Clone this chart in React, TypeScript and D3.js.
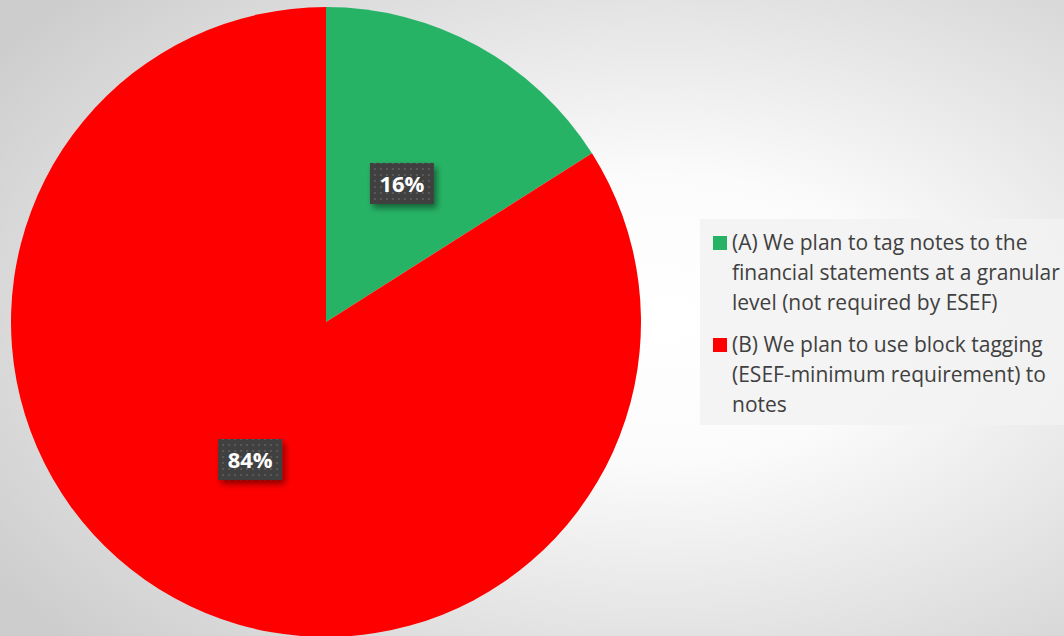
import React from "react";
import * as d3 from "d3";

const categories = [
  "(A) We plan to tag notes to the financial statements at a granular level (not required by ESEF)",
  "(B) We plan to use block tagging (ESEF-minimum requirement) to notes",
];
const values = [16, 84];
const colors = ["#27b366", "#ff0000"];
const legendLines = [
  ["(A) We plan to tag notes to the", "financial statements at a granular", "level (not required by ESEF)"],
  ["(B) We plan to use block tagging", "(ESEF-minimum requirement) to", "notes"],
];

const W = 1064, H = 636;
const cx = 326, cy = 322, R = 315;

export default function App() {
  const pie = d3.pie<number>().sort(null).value((d) => d);
  const arcs = pie(values);
  const arc = d3.arc<d3.PieArcDatum<number>>().innerRadius(0).outerRadius(R);
  const labelArc = d3.arc<d3.PieArcDatum<number>>().innerRadius(R * 0.5).outerRadius(R * 0.5);
  const total = d3.sum(values);
  return (
    <svg width={W} height={H} style={{ position: "absolute", left: 0, top: 0 }}>
      <defs>
        <radialGradient id="bg" cx="62%" cy="50%" r="75%">
          <stop offset="0%" stopColor="#ffffff" />
          <stop offset="30%" stopColor="#fbfbfb" />
          <stop offset="100%" stopColor="#cdcdcd" />
        </radialGradient>
        <pattern id="dots" width="6" height="6" patternUnits="userSpaceOnUse">
          <rect width="6" height="6" fill="#404040" />
          <rect x="2" y="2" width="2" height="2" fill="#5a5a5a" />
        </pattern>
        <filter id="shadow" x="-20%" y="-20%" width="150%" height="160%">
          <feDropShadow dx="3" dy="4" stdDeviation="3" floodColor="#000" floodOpacity="0.45" />
        </filter>
      </defs>
      <rect width={W} height={H} fill="url(#bg)" />
      <g transform={`translate(${cx},${cy})`}>
        {arcs.map((a, i) => (
          <path key={i} d={arc(a) || ""} fill={colors[i]} />
        ))}
        {arcs.map((a, i) => {
          const [x, y] = labelArc.centroid(a);
          const txt = `${Math.round((a.value / total) * 100)}%`;
          return (
            <g key={"l" + i} transform={`translate(${x},${y})`}>
              <rect x={-32} y={-21} width={64} height={41} fill="url(#dots)" filter="url(#shadow)" />
              <text
                textAnchor="middle"
                dy="0.36em"
                fill="#ffffff"
                fontFamily="'Open Sans', sans-serif"
                fontWeight="bold"
                fontSize={22}
              >
                {txt}
              </text>
            </g>
          );
        })}
      </g>
      <rect x={700} y={219} width={364} height={206} fill="#f2f2f2" opacity={0.85} />
      {legendLines.map((lines, i) => {
        const top = 236 + i * 102;
        return (
          <g key={"lg" + i}>
            <rect x={713} y={top} width={14} height={14} fill={colors[i]} />
            {lines.map((ln, j) => (
              <text
                key={j}
                x={732}
                y={top + 7 + j * 30}
                dy="0.35em"
                fill="#404040"
                fontFamily="'Open Sans', sans-serif"
                fontSize={21}
              >
                {ln}
              </text>
            ))}
          </g>
        );
      })}
    </svg>
  );
}
